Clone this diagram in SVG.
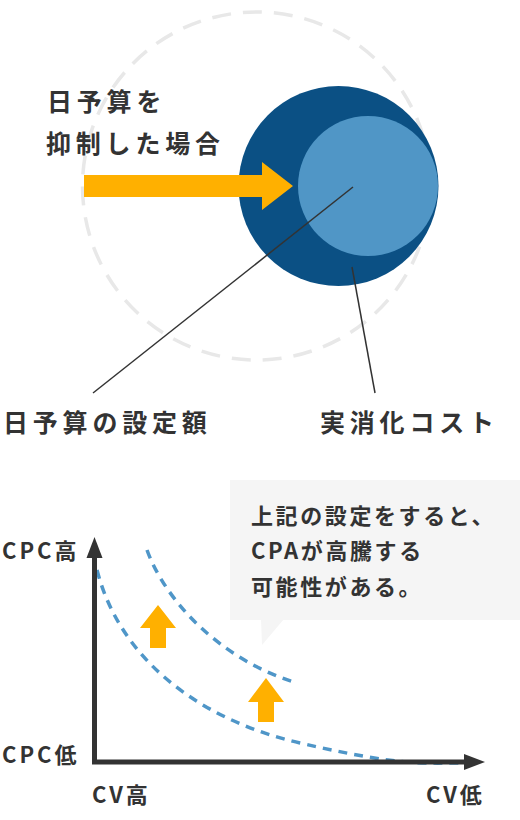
<svg xmlns="http://www.w3.org/2000/svg" width="520" height="820" viewBox="0 0 520 820">
<style>
.t{font-family:"Noto Sans CJK JP","Noto Sans",sans-serif;fill:#333;font-weight:700}
.big{font-size:25px;letter-spacing:4.8px}
.mid{font-size:22px;letter-spacing:2.6px}
.ax{font-size:22px;letter-spacing:3px}
.orange{fill:#ffb000}
.curve{fill:none;stroke:#4f96c8;stroke-width:3.5;stroke-dasharray:9 7}
.lead{stroke:#333;stroke-width:1.5;fill:none}
</style>
<rect width="520" height="820" fill="#fff"/>
<g id="budget-limit-circle">
<circle cx="256.5" cy="186" r="174" fill="none" stroke="#e8e8e8" stroke-width="3.5" stroke-dasharray="19 12"/>
</g>
<g id="budget-circle">
<circle cx="338.5" cy="186" r="100" fill="#0b5084"/>
</g>
<g id="actual-cost-circle">
<circle cx="368" cy="186" r="70" fill="#5096c6"/>
</g>
<g id="suppress-arrow">
<polygon class="orange" points="84,175 262,175 262,162 293,186 262,210 262,197 84,197"/>
</g>
<g id="label-suppress">
<text class="t big" x="47" y="111">日予算を</text>
<text class="t big" x="46" y="153">抑制した場合</text>
</g>
<g id="connectors">
<line class="lead" x1="353" y1="187" x2="93" y2="393"/>
<line class="lead" x1="352" y1="267" x2="375" y2="393"/>
</g>
<g id="label-budget">
<text class="t big" x="3" y="432">日予算の設定額</text>
</g>
<g id="label-actual">
<text class="t big" x="320" y="432">実消化コスト</text>
</g>
<g id="callout">
<rect x="230" y="480" width="290" height="140" fill="#f5f5f5"/>
<polygon points="261,619 284,619 262,645" fill="#f5f5f5"/>
<text class="t mid" x="251" y="524">上記の設定をすると、</text>
<text class="t mid" x="251" y="559">CPAが高騰する</text>
<text class="t mid" x="251" y="595">可能性がある。</text>
</g>
<g id="chart-curves">
<path class="curve" d="M97,570 C120,660 200,720 300,743 S420,763 460,763"/>
<path class="curve" d="M147,550 C165,600 220,660 297,683"/>
</g>
<g id="up-arrows">
<polygon class="orange" points="158,605 176,628 166,628 166,648 150,648 150,628 140,628"/>
<polygon class="orange" points="266,678 284,702 274,702 274,722 258,722 258,702 248,702"/>
</g>
<g id="axes">
<line x1="94.5" y1="556" x2="94.5" y2="764" stroke="#333" stroke-width="5"/>
<polygon points="94.5,537 102.5,558 86.5,558" fill="#333"/>
<line x1="92" y1="762" x2="466" y2="762" stroke="#333" stroke-width="5"/>
<polygon points="485,762 464,754 464,770" fill="#333"/>
</g>
<g id="axis-labels">
<text class="t ax" x="2" y="559">CPC高</text>
<text class="t ax" x="2" y="763">CPC低</text>
<text class="t ax" x="92" y="803">CV高</text>
<text class="t ax" x="426" y="803">CV低</text>
</g>
</svg>
